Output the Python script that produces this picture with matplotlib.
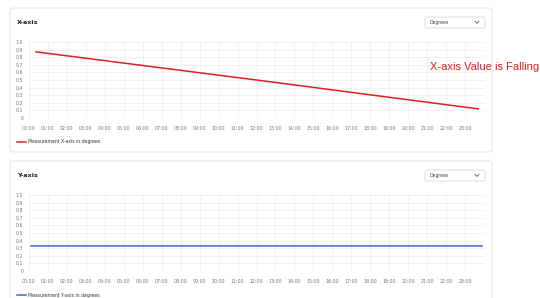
import numpy as np
import matplotlib.pyplot as plt
from matplotlib.patches import FancyBboxPatch

# data
hours = np.arange(24)
hour_labels = [f"{h:02d}:00" for h in hours]
x_times = [0.37, 12.0, 23.7]
x_values = [0.87, 0.50, 0.12]
y_times = [0.1, 12.0, 23.9]
y_values = [0.325, 0.325, 0.325]
y_ticks = [0, 0.1, 0.2, 0.3, 0.4, 0.5, 0.6, 0.7, 0.8, 0.9, 1.0]
y_tick_labels = ["0", "0.1", "0.2", "0.3", "0.4", "0.5", "0.6", "0.7", "0.8", "0.9", "1.0"]

W, H = 540, 298
fig = plt.figure(figsize=(W / 100, H / 100), dpi=100)
fig.patch.set_facecolor("white")


def fx(px):
    return px / W


def fy(py):
    return 1 - py / H


def card(top, bottom, title, series_t, series_v, color, legend_text):
    # card background
    box = FancyBboxPatch((fx(10), fy(bottom)), fx(492) - fx(10), fy(top) - fy(bottom),
                         boxstyle="round,pad=0,rounding_size=0.008",
                         transform=fig.transFigure, facecolor="white",
                         edgecolor="#e6e6e6", linewidth=0.8, zorder=-2)
    fig.patches.append(box)
    fig.text(fx(17), fy(top + 14.5), title, fontsize=4.6, fontweight="bold",
             color="#222222", va="center", ha="left")

    # dropdown
    dd = FancyBboxPatch((fx(425), fy(top + 20)), fx(485) - fx(425), fy(top + 9) - fy(top + 20),
                        boxstyle="round,pad=0,rounding_size=0.004",
                        transform=fig.transFigure, facecolor="white",
                        edgecolor="#d8d8d8", linewidth=0.6, zorder=-1)
    fig.patches.append(dd)
    fig.text(fx(430), fy(top + 14.5), "Degrees", fontsize=3.3, color="#444444",
             va="center", ha="left")
    cy = fy(top + 14.5)
    fig.lines.append(plt.Line2D([fx(475), fx(477), fx(479)],
                                [cy + 0.004, cy - 0.003, cy + 0.004],
                                transform=fig.transFigure, color="#555555", lw=0.6))

    # plot area
    ax_top = top + 34
    ax_bot = top + 110
    ax = fig.add_axes([fx(29), fy(ax_bot), fx(485) - fx(29), fy(ax_top) - fy(ax_bot)])
    ax.patch.set_alpha(0)
    ax.plot(series_t, series_v, color=color, lw=1.1)
    ax.set_xlim(0, 24.05)
    ax.set_ylim(0, 1.0)
    ax.set_xticks(hours)
    ax.set_xticklabels(hour_labels, fontsize=3.4, color="#777777")
    ax.set_yticks(y_ticks)
    ax.set_yticklabels(y_tick_labels, fontsize=3.4, color="#777777")
    ax.grid(True, color="#ebebeb", lw=0.5)
    ax.set_axisbelow(True)
    for s in ax.spines.values():
        s.set_visible(False)
    ax.tick_params(axis="x", length=0, pad=6)
    ax.tick_params(axis="y", length=0, pad=4)

    # legend
    ly = fy(top + 134)
    fig.lines.append(plt.Line2D([fx(17), fx(26)], [ly, ly], transform=fig.transFigure,
                                color=color, lw=1.1))
    fig.text(fx(28), ly, legend_text, fontsize=3.3, color="#333333", va="center", ha="left")
    return ax


card(8, 152, "X-axis", x_times, x_values, "#e02020", "Measurement X-axis in degrees")
card(161, 310, "Y-axis", y_times, y_values, "#3a64d8", "Measurement Y-axis in degrees")

fig.text(fx(430), fy(67), "X-axis Value is Falling", fontsize=8, color="#e0201c",
         va="center", ha="left", family="Liberation Sans")

fig.savefig("out.png", dpi=100)
